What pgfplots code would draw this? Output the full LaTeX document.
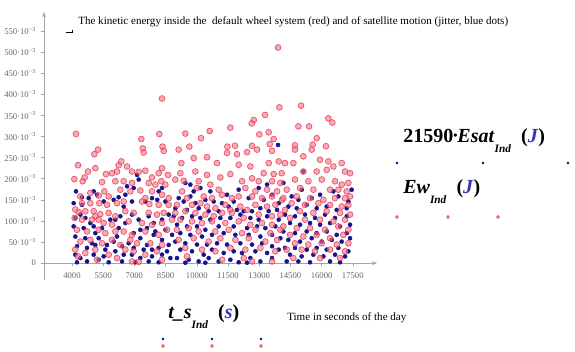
\documentclass[border=0pt]{standalone}
\usepackage{pgfplots}
\pgfplotsset{compat=1.18}
\usepackage{fontspec}
\setmainfont{Liberation Serif}
\usetikzlibrary{arrows.meta}
\newlength\px
\setlength\px{0.75pt}
\definecolor{axgray}{RGB}{165,165,165}
\definecolor{tkgray}{RGB}{105,105,105}
\definecolor{bdot}{RGB}{20,20,145}
\definecolor{rring}{RGB}{232,55,80}
\definecolor{rfill}{RGB}{242,115,135}
\definecolor{jblue}{RGB}{50,50,190}
\begin{document}
\begin{tikzpicture}
\path[use as bounding box] (0,0) rectangle (575\px,351\px);
\begin{axis}[
  at={(44\px,71\px)}, anchor=south west,
  width=333\px, height=268\px, scale only axis,
  xmin=2654, xmax=18663, ymin=-0.04, ymax=0.595,
  axis x line=middle, axis y line=left,
  axis line style={draw=axgray, line width=0.5pt},
  x axis line style={-{Stealth[length=4pt,width=3pt]}},
  y axis line style={-{Stealth[length=4pt,width=3pt]}},
  tick style={draw=axgray, line width=0.4pt},
  major tick length=2.5pt,
  tick align=outside,
  scaled x ticks=false, scaled y ticks=false,
  xtick={4000,5500,7000,8500,10000,11500,13000,14500,16000,17500},
  xticklabels={4000,5500,7000,8500,10000,11500,13000,14500,16000,17500},
  ytick={0,0.05,0.1,0.15,0.2,0.25,0.3,0.35,0.4,0.45,0.5,0.55},
  yticklabels={0,50·10\textsuperscript{−3},100·10\textsuperscript{−3},150·10\textsuperscript{−3},200·10\textsuperscript{−3},250·10\textsuperscript{−3},300·10\textsuperscript{−3},350·10\textsuperscript{−3},400·10\textsuperscript{−3},450·10\textsuperscript{−3},500·10\textsuperscript{−3},550·10\textsuperscript{−3}},
  ticklabel style={font=\fontsize{6.5}{7}\selectfont, text=tkgray},
  xticklabel style={yshift=-1pt},
  clip=false,
]
\addplot[only marks, mark=*, mark size=1.5pt, mark options={draw=bdot, fill=bdot}] coordinates {
(4192,0.170) (5042,0.170) (4481,0.156) (4801,0.154) (5202,0.162) (6004,0.150) (6244,0.156) (6565,0.162) (6645,0.182) (6965,0.178)
(7126,0.209) (7206,0.198) (8168,0.170) (8328,0.178) (8488,0.146) (4080,0.142) (4481,0.138) (5523,0.146) (6485,0.134) (6885,0.146)
(7527,0.146) (7847,0.154) (8100,0.150) (4160,0.107) (4401,0.115) (4641,0.107) (4882,0.095) (5042,0.087) (5843,0.103) (6324,0.111)
(6084,0.103) (6885,0.115) (7206,0.103) (7687,0.111) (7927,0.095) (8328,0.103) (8649,0.115) (4080,0.087) (4561,0.083) (5122,0.071)
(5443,0.083) (6244,0.083) (6565,0.095) (6965,0.071) (7286,0.079) (7607,0.083) (8007,0.075) (8488,0.079) (8809,0.067) (4160,0.063)
(4641,0.059) (4962,0.047) (5282,0.059) (5683,0.043) (6004,0.051) (6164,0.063) (6725,0.047) (7286,0.059) (7607,0.043) (7927,0.067)
(8328,0.055) (8649,0.043) (4240,0.040) (4721,0.036) (5122,0.043) (5603,0.032) (6084,0.028) (6405,0.040) (6965,0.036) (7446,0.032)
(7847,0.032) (8168,0.036) (8569,0.028) (4160,0.020) (4401,0.012) (5042,0.020) (5282,0.008) (5523,0.016) (6485,0.020) (6885,0.020)
(7286,0.012) (7847,0.016) (8328,0.020) (8729,0.012) (4240,0.002) (4721,0.004) (5763,0.002) (6405,0.004) (7046,0.002) (7687,0.004)
(8168,0.002)
(9449,0.190) (9690,0.186) (9850,0.170) (10171,0.178) (10651,0.170) (11453,0.162) (12014,0.174) (12976,0.178) (13377,0.186) (9129,0.154)
(9369,0.146) (9690,0.158) (9930,0.142) (10411,0.150) (10812,0.146) (11213,0.142) (11774,0.146) (12495,0.154) (13216,0.150) (13617,0.162)
(13938,0.142) (8968,0.130) (9529,0.126) (10090,0.130) (10571,0.123) (11052,0.123) (11533,0.134) (11934,0.126) (12254,0.123) (12655,0.123)
(13056,0.130) (13457,0.123) (13857,0.126) (8888,0.111) (9289,0.107) (9770,0.111) (10171,0.107) (10651,0.103) (11132,0.107) (11613,0.107)
(12094,0.115) (12575,0.107) (12976,0.103) (13377,0.111) (13938,0.103) (9048,0.091) (9529,0.087) (10010,0.087) (10411,0.079) (11052,0.087)
(11774,0.087) (12415,0.083) (12896,0.087) (13296,0.083) (13777,0.087) (9209,0.071) (9690,0.067) (10251,0.063) (10732,0.067) (11293,0.071)
(11854,0.067) (12495,0.067) (13056,0.063) (13617,0.067) (14018,0.059) (8968,0.051) (9449,0.047) (10010,0.044) (10491,0.044) (10972,0.047)
(11453,0.044) (12094,0.047) (12655,0.044) (13136,0.047) (13617,0.040) (9209,0.032) (9770,0.028) (10331,0.020) (10732,0.032) (11293,0.024)
(11774,0.028) (12174,0.024) (12816,0.028) (13377,0.024) (13938,0.032) (9048,0.012) (9610,0.008) (10090,0.004) (10571,0.012) (11052,0.004)
(11613,0.008) (12014,0.002) (12575,0.012) (13056,0.004) (13617,0.012) (9449,0.001) (10411,0.001) (12415,0.001) (13905,0.280)
(14161,0.190) (15043,0.174) (15123,0.217) (16566,0.170) (17447,0.174) (14562,0.158) (14883,0.150) (15524,0.154) (15925,0.162) (16806,0.158)
(17287,0.146) (14402,0.134) (14803,0.130) (15283,0.138) (15764,0.130) (16245,0.134) (16726,0.126) (17207,0.130) (14241,0.115) (14722,0.111)
(15203,0.115) (15684,0.107) (16165,0.115) (16646,0.107) (17207,0.111) (14482,0.095) (14963,0.091) (15444,0.095) (15925,0.091) (16406,0.095)
(16886,0.087) (17367,0.091) (14161,0.075) (14722,0.071) (15283,0.075) (15764,0.071) (16245,0.075) (16726,0.067) (17207,0.071) (14402,0.055)
(14963,0.051) (15524,0.059) (16005,0.051) (16486,0.055) (16966,0.051) (17367,0.059) (14241,0.036) (14722,0.036) (15283,0.032) (15764,0.036)
(16245,0.032) (16806,0.036) (17287,0.028) (14482,0.020) (15043,0.016) (15604,0.020) (16085,0.016) (16646,0.020) (17127,0.016) (14322,0.004)
(14883,0.004) (15444,0.002) (16406,0.004) (16886,0.002)
};
\addplot[only marks, mark=*, mark size=2.2pt, mark options={draw=rring, fill=rfill, fill opacity=0.6, draw opacity=0.8, line width=0.55pt}] coordinates {
(8327,0.390) (4192,0.306) (8198,0.306) (7333,0.294) (7400,0.272) (8350,0.276)
(13905,0.511) (13968,0.369) (13279,0.351) (12736,0.339) (12640,0.331) (11612,0.321) (10620,0.313) (9449,0.307) (10202,0.296) (13005,0.305)
(13456,0.310) (13697,0.294) (13505,0.282) (9640,0.276) (11470,0.276) (11840,0.278) (12650,0.278)
(15010,0.373) (16323,0.343) (16515,0.333) (14881,0.324) (15395,0.324) (15765,0.296) (16210,0.277) (15570,0.281) (14720,0.279)
(5074,0.258) (5250,0.269) (7446,0.262) (8408,0.266) (4288,0.232) (4769,0.217) (5122,0.225) (5635,0.211) (5924,0.213) (6164,0.217)
(6244,0.232) (6372,0.241) (6645,0.229) (6885,0.217) (7206,0.216) (7527,0.219) (7847,0.203) (8168,0.213) (8328,0.225) (8617,0.209)
(8296,0.194) (4112,0.199) (4513,0.194) (4609,0.203) (5443,0.192) (6084,0.194) (6485,0.194) (6885,0.190) (7687,0.190) (8007,0.186)
(8488,0.186) (4401,0.158) (4882,0.166) (5282,0.160) (5555,0.170) (5763,0.158) (6324,0.174) (6805,0.170) (7286,0.172) (7527,0.154)
(7847,0.170) (8328,0.162) (8649,0.154) (4481,0.142) (4882,0.142) (5314,0.142) (5683,0.138) (6164,0.142) (6485,0.146) (7366,0.146)
(7719,0.140) (8168,0.138) (8649,0.138) (4160,0.127) (4321,0.121) (4641,0.123) (5042,0.123) (5122,0.111) (5362,0.116) (5763,0.119)
(6084,0.111) (6565,0.123) (6965,0.119) (7687,0.119) (8088,0.115) (8408,0.119) (4128,0.107) (4481,0.103) (4962,0.103) (5282,0.103)
(5523,0.095) (5924,0.091) (6725,0.099) (7366,0.095) (7847,0.091) (8328,0.095) (8809,0.103) (4240,0.079) (4721,0.075) (5282,0.079)
(5603,0.071) (6084,0.075) (6485,0.075) (6885,0.067) (7527,0.075) (8168,0.067) (8569,0.079) (4401,0.051) (4882,0.055) (5443,0.047)
(5924,0.055) (6324,0.043) (6805,0.055) (7126,0.047) (7767,0.047) (8328,0.043) (4160,0.032) (4641,0.024) (5122,0.032) (5763,0.020)
(6565,0.032) (6965,0.028) (7527,0.020) (8088,0.028) (4288,0.016) (5202,0.008) (6164,0.012) (6885,0.004) (7206,0.003) (8328,0.008)
(9129,0.269) (9850,0.249) (10491,0.251) (11453,0.261) (11934,0.258) (12415,0.263) (12896,0.269) (13617,0.266) (9257,0.237) (10972,0.237)
(12014,0.233) (12575,0.229) (13457,0.237) (13938,0.241) (9209,0.213) (9930,0.217) (10491,0.209) (11132,0.203) (11613,0.211) (12655,0.201)
(13216,0.213) (13697,0.211) (8968,0.198) (9369,0.195) (10090,0.194) (10651,0.186) (12174,0.194) (12976,0.194) (13617,0.194) (14018,0.190)
(9289,0.170) (10010,0.178) (11052,0.174) (12335,0.178) (12816,0.170) (13377,0.174) (13857,0.170) (9529,0.154) (10331,0.158) (10732,0.154)
(11213,0.162) (11693,0.154) (12014,0.158) (12655,0.158) (13136,0.154) (13617,0.158) (14098,0.150) (9048,0.138) (9770,0.138) (10171,0.142)
(10491,0.134) (10892,0.130) (11373,0.138) (11613,0.126) (12094,0.134) (12415,0.126) (12816,0.138) (13377,0.134) (13777,0.138) (8968,0.119)
(9449,0.123) (9930,0.119) (10411,0.115) (10812,0.111) (11213,0.119) (11693,0.119) (12254,0.107) (12976,0.115) (13617,0.111) (14018,0.115)
(9209,0.103) (9770,0.099) (10251,0.095) (10732,0.099) (11373,0.095) (12014,0.099) (12575,0.091) (13136,0.095) (13617,0.091) (9048,0.079)
(9610,0.083) (10090,0.075) (10892,0.075) (11533,0.079) (12174,0.071) (12816,0.079) (13537,0.071) (14018,0.079) (9129,0.055) (9850,0.059)
(10571,0.051) (11132,0.059) (11854,0.055) (12495,0.059) (13296,0.051) (13857,0.055) (9449,0.036) (10251,0.032) (10892,0.028) (11613,0.036)
(12335,0.032) (13056,0.036) (13777,0.028) (9529,0.016) (11213,0.008) (12254,0.012) (12655,0.004) (13617,0.004)
(14722,0.269) (15524,0.269) (15123,0.253) (15925,0.245) (16325,0.241) (16966,0.237) (14241,0.237) (14642,0.237) (14081,0.213) (15123,0.217)
(15764,0.217) (16245,0.221) (16566,0.229) (17127,0.217) (17367,0.213) (14722,0.198) (15364,0.194) (16005,0.198) (16646,0.194) (16966,0.186)
(17287,0.190) (14322,0.174) (14963,0.178) (15604,0.174) (16406,0.174) (16806,0.174) (17207,0.170) (14161,0.154) (14803,0.158) (15444,0.154)
(16085,0.150) (16646,0.154) (17127,0.154) (17367,0.158) (14562,0.142) (15203,0.138) (15844,0.142) (16406,0.138) (16966,0.134) (17287,0.138)
(14241,0.126) (14963,0.123) (15604,0.119) (16245,0.123) (16886,0.119) (17367,0.115) (14482,0.107) (15203,0.103) (15925,0.103) (16566,0.099)
(17127,0.103) (14161,0.087) (14803,0.083) (15444,0.083) (16165,0.079) (16806,0.087) (17287,0.079) (14482,0.067) (15123,0.063) (15764,0.067)
(16406,0.059) (17047,0.067) (14722,0.047) (15364,0.044) (16005,0.047) (16726,0.044) (17287,0.047) (14322,0.032) (15043,0.032) (15684,0.028)
(16406,0.032) (17127,0.028) (14642,0.012) (15925,0.012) (16886,0.012)
};
\end{axis}
\begin{axis}[
  at={(0,0)}, anchor=south west,
  width=575\px, height=351\px, scale only axis,
  xmin=0, xmax=575, ymin=0, ymax=351, y dir=reverse,
  hide axis, clip=false,
]
\addplot[only marks, mark=*, mark size=0.8pt, mark options={draw=bdot, fill=bdot}] coordinates {(397,163) (483,163) (568,163) (163,339) (212,339) (261,339)};
\addplot[only marks, mark=*, mark size=1.1pt, mark options={draw=rring, fill=rfill, fill opacity=0.7}] coordinates {(397,217) (448,217) (498,217) (163,346) (212,346) (261,346)};
\node[anchor=base west, inner sep=0pt, font=\fontsize{8.3}{10}\selectfont] at (axis cs:78,24) {The kinetic energy inside the\ \ default wheel system (red) and of satellite motion (jitter, blue dots)};
\node[anchor=base west, inner sep=0pt, font=\fontsize{8.3}{10}\selectfont] at (axis cs:287,320) {Time in seconds of the day};
\draw[black, line width=0.5pt] (axis cs:72,29.5) -- (axis cs:72,32.5) -- (axis cs:66,32.5);
\node[anchor=base west, inner sep=0pt, font=\fontsize{15}{17}\bfseries\selectfont] at (axis cs:403,142) {21590{\fontsize{9}{9}\selectfont\raisebox{0.25em}{•}}\textit{Esat}\raisebox{-0.5em}{\fontsize{8.5}{8.5}\selectfont\textit{Ind}}\ \ (\textcolor{jblue}{\textit{J}})};
\node[anchor=base west, inner sep=0pt, font=\fontsize{15}{17}\bfseries\selectfont] at (axis cs:403,193) {\textit{Ew}\raisebox{-0.5em}{\fontsize{8.5}{8.5}\selectfont\textit{Ind}}\ \ (\textcolor{jblue}{\textit{J}})};
\node[anchor=base west, inner sep=0pt, font=\fontsize{15}{17}\bfseries\selectfont] at (axis cs:168,318) {\textit{t\_s}\raisebox{-0.5em}{\fontsize{8.5}{8.5}\selectfont\textit{Ind}}\ \ (\textcolor{jblue}{\textit{s}})};
\end{axis}
\end{tikzpicture}
\end{document}
